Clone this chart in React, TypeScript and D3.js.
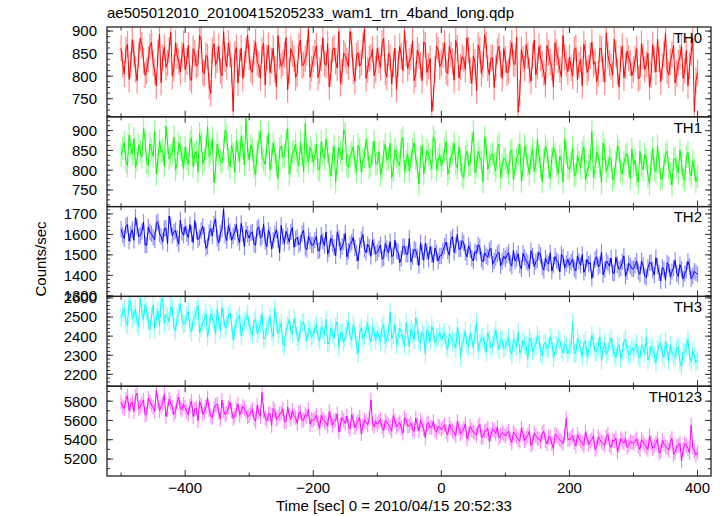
import React from "react";
import * as d3 from "d3";

const TITLE = "ae505012010_20100415205233_wam1_trn_4band_long.qdp";
const XLABEL = "Time [sec] 0 = 2010/04/15 20:52:33";
const YLABEL = "Counts/sec";

// samples on whole 5 s steps from -500 s, and the in-between samples (offset 2.5 s)
const T0 = -500;
const DT = 5;

const th0 = [
  862, 805, 871, 826, 850, 790, 884, 835, 812, 866, 829, 778, 893, 841, 820, 858, 800, 874, 833, 847,
  815, 869, 790, 851, 828, 880, 806, 843, 762, 872, 836, 812, 899, 821, 849, 722, 864, 830, 795, 858,
  842, 808, 876, 825, 857, 781, 868, 834, 815, 890, 822, 847, 770, 861, 839, 806, 880, 826, 852, 798,
  838, 867, 812, 885, 824, 776, 858, 833, 899, 809, 846, 821, 870, 789, 852, 830, 905, 814, 842, 801,
  862, 819, 884, 798, 841, 827, 771, 866, 812, 850, 833, 878, 804, 845, 790, 869, 822, 722, 815, 858,
  829, 874, 806, 848, 791, 862, 820, 838, 885, 812, 845, 768, 857, 826, 870, 803, 841, 819, 866, 795,
  838, 812, 874, 826, 720, 859, 817, 846, 789, 880, 822, 841, 807, 868, 831, 776, 853, 814, 890, 828,
  842, 800, 863, 825, 779, 851, 818, 875, 832, 806, 860, 787, 846, 821, 882, 810, 839, 797, 856, 829,
  815, 861, 798, 844, 826, 776, 870, 809, 837, 822, 895, 803, 848, 785, 830, 866, 812, 779, 851, 722,
  808,
];
const th0Mid = [
  826, 858, 793, 881, 815, 847, 869, 802, 838, 875, 811, 852, 786, 864, 830, 897, 818, 845, 809, 872,
  833, 796, 861, 822, 890, 809, 846, 778, 857, 824, 866, 801, 839, 873, 812, 848, 785, 862, 827, 891,
  815, 852, 830, 796, 873, 841, 808, 862, 776, 844, 829, 885, 812, 850, 797, 866, 823, 839, 905, 817,
  852, 797, 840, 829, 872, 806, 863, 818, 784, 851, 834, 899, 811, 845, 822, 867, 795, 838, 860, 815,
  836, 873, 809, 851, 783, 862, 827, 845, 901, 817, 842, 790, 858, 824, 876, 808, 839, 752, 867, 821,
  847, 810, 866, 832, 879, 796, 843, 815, 858, 784, 831, 869, 806, 892, 818, 840, 775, 855, 828, 861,
  807, 851, 829, 886, 762, 838, 870, 812, 845, 803, 866, 826, 781, 852, 819, 874, 836, 798, 842, 810,
  818, 859, 792, 837, 871, 808, 845, 826, 788, 862, 815, 896, 829, 803, 850, 776, 866, 822, 840, 801,
  838, 794, 872, 815, 851, 803, 836, 882, 788, 849, 812, 831, 868, 806, 842, 795, 857, 823, 884, 790,
];

const th1 = [
  838, 871, 812, 859, 880, 826, 848, 905, 819, 866, 835, 790, 874, 851, 912, 828, 845, 801, 869, 836,
  858, 815, 882, 840, 796, 872, 829, 910, 844, 768, 866, 825, 851, 889, 808, 842, 875, 822, 860, 931,
  826, 851, 788, 872, 833, 815, 894, 829, 846, 779, 861, 837, 906, 812, 848, 824, 870, 797, 839, 858,
  820, 866, 801, 843, 879, 812, 830, 771, 858, 826, 892, 808, 845, 819, 864, 795, 833, 852, 812, 874,
  816, 789, 846, 825, 868, 800, 835, 812, 882, 821, 798, 853, 830, 765, 862, 818, 841, 803, 873, 826,
  811, 852, 790, 835, 869, 806, 823, 781, 848, 815, 897, 809, 832, 771, 855, 820, 842, 798, 866, 812,
  828, 790, 851, 806, 840, 772, 862, 815, 832, 797, 879, 808, 825, 846, 780, 858, 812, 836, 770, 845,
  802, 856, 789, 821, 845, 776, 812, 898, 805, 833, 768, 851, 809, 826, 785, 862, 800, 818, 842, 779,
  812, 787, 848, 801, 828, 766, 855, 796, 821, 780, 839, 805, 762, 830, 793, 817, 774, 845, 786, 802,
  784,
];
const th1Mid = [
  855, 822, 889, 841, 806, 864, 833, 877, 812, 851, 898, 826, 845, 810, 869, 838, 884, 819, 856, 803,
  830, 871, 809, 848, 893, 817, 856, 835, 880, 806, 842, 818, 901, 829, 863, 795, 847, 885, 813, 852,
  864, 810, 847, 898, 825, 858, 801, 869, 814, 853, 832, 875, 790, 845, 866, 811, 838, 918, 822, 848,
  838, 803, 872, 829, 847, 785, 861, 818, 844, 902, 812, 835, 860, 797, 851, 824, 878, 806, 842, 816,
  847, 806, 866, 830, 781, 852, 818, 874, 797, 840, 823, 869, 808, 835, 791, 850, 826, 885, 802, 839,
  826, 872, 804, 843, 816, 859, 787, 835, 812, 866, 794, 848, 821, 883, 803, 838, 815, 856, 780, 829,
  812, 847, 776, 829, 866, 801, 838, 789, 853, 818, 834, 771, 861, 806, 829, 843, 792, 823, 880, 807,
  821, 786, 838, 805, 859, 794, 826, 781, 847, 812, 869, 797, 833, 775, 820, 848, 790, 836, 809, 853,
  826, 769, 812, 840, 786, 819, 802, 862, 778, 815, 848, 791, 827, 808, 851, 782, 834, 799, 823, 771,
];

const th2 = [
  1625, 1580, 1648, 1602, 1571, 1639, 1595, 1660, 1548, 1612, 1587, 1655, 1603, 1566, 1631, 1690, 1594, 1620, 1552, 1610,
  1638, 1585, 1602, 1667, 1574, 1619, 1596, 1543, 1628, 1651, 1582, 1607, 1725, 1570, 1615, 1592, 1648, 1560, 1604, 1622,
  1582, 1611, 1548, 1637, 1590, 1565, 1620, 1528, 1602, 1575, 1644, 1556, 1591, 1612, 1537, 1585, 1560, 1620, 1525, 1569,
  1548, 1590, 1523, 1568, 1612, 1530, 1557, 1496, 1582, 1541, 1605, 1518, 1562, 1534, 1470, 1575, 1527, 1551, 1493, 1540,
  1512, 1548, 1486, 1530, 1565, 1497, 1521, 1462, 1542, 1505, 1580, 1490, 1523, 1448, 1512, 1556, 1478, 1503, 1534, 1470,
  1496, 1542, 1520, 1575, 1512, 1601, 1530, 1558, 1490, 1525, 1470, 1508, 1539, 1465, 1496, 1522, 1454, 1487, 1513, 1468,
  1480, 1512, 1445, 1470, 1505, 1432, 1488, 1461, 1520, 1443, 1476, 1498, 1425, 1463, 1510, 1450, 1472, 1416, 1489, 1458,
  1447, 1480, 1421, 1468, 1502, 1436, 1455, 1385, 1478, 1441, 1513, 1427, 1460, 1485, 1410, 1452, 1437, 1495, 1418, 1446,
  1432, 1470, 1405, 1448, 1389, 1461, 1425, 1486, 1412, 1440, 1376, 1452, 1418, 1473, 1395, 1430, 1407, 1468, 1383, 1420,
  1405,
];
const th2Mid = [
  1598, 1642, 1567, 1623, 1684, 1589, 1615, 1548, 1637, 1603, 1574, 1662, 1590, 1628, 1555, 1646, 1612, 1580, 1671, 1596,
  1604, 1648, 1561, 1616, 1585, 1640, 1532, 1609, 1592, 1676, 1558, 1625, 1596, 1643, 1571, 1612, 1585, 1654, 1540, 1601,
  1607, 1553, 1628, 1582, 1649, 1540, 1598, 1571, 1623, 1510, 1589, 1615, 1562, 1634, 1578, 1550, 1605, 1536, 1592, 1548,
  1572, 1519, 1596, 1545, 1503, 1582, 1536, 1610, 1522, 1563, 1490, 1551, 1586, 1508, 1545, 1599, 1512, 1538, 1570, 1505,
  1530, 1478, 1556, 1509, 1492, 1571, 1515, 1483, 1539, 1502, 1465, 1528, 1491, 1560, 1474, 1518, 1540, 1462, 1509, 1495,
  1521, 1562, 1498, 1589, 1546, 1527, 1570, 1512, 1545, 1483, 1516, 1550, 1478, 1510, 1489, 1532, 1471, 1505, 1446, 1493,
  1498, 1459, 1521, 1482, 1449, 1507, 1470, 1432, 1495, 1466, 1512, 1440, 1485, 1455, 1421, 1492, 1462, 1503, 1437, 1478,
  1464, 1432, 1496, 1449, 1415, 1478, 1462, 1428, 1491, 1452, 1403, 1470, 1445, 1412, 1488, 1430, 1466, 1395, 1459, 1432,
  1449, 1418, 1470, 1396, 1437, 1462, 1401, 1445, 1372, 1428, 1461, 1392, 1436, 1410, 1452, 1381, 1425, 1443, 1398, 1412,
];

const th3 = [
  2498, 2545, 2455, 2580, 2510, 2470, 2602, 2488, 2530, 2435, 2562, 2497, 2455, 2598, 2512, 2476, 2540, 2428, 2520, 2485,
  2465, 2530, 2421, 2502, 2560, 2446, 2488, 2395, 2515, 2472, 2540, 2430, 2495, 2458, 2522, 2380, 2478, 2510, 2445, 2488,
  2452, 2405, 2490, 2436, 2518, 2390, 2460, 2425, 2545, 2412, 2470, 2348, 2455, 2430, 2492, 2398, 2440, 2472, 2376, 2428,
  2410, 2462, 2375, 2430, 2488, 2362, 2415, 2452, 2340, 2420, 2395, 2478, 2381, 2428, 2310, 2445, 2402, 2466, 2370, 2418,
  2425, 2372, 2460, 2390, 2528, 2408, 2356, 2440, 2386, 2470, 2345, 2415, 2495, 2378, 2422, 2305, 2410, 2452, 2368, 2398,
  2380, 2420, 2332, 2398, 2365, 2445, 2290, 2388, 2352, 2415, 2340, 2472, 2362, 2395, 2318, 2380, 2348, 2432, 2330, 2375,
  2345, 2392, 2305, 2368, 2420, 2330, 2358, 2278, 2372, 2340, 2405, 2315, 2360, 2332, 2398, 2290, 2350, 2378, 2312, 2342,
  2335, 2470, 2310, 2362, 2296, 2378, 2330, 2405, 2318, 2348, 2272, 2366, 2322, 2390, 2305, 2345, 2280, 2372, 2328, 2310,
  2322, 2360, 2285, 2340, 2395, 2298, 2330, 2262, 2352, 2310, 2375, 2270, 2318, 2290, 2345, 2240, 2312, 2382, 2268, 2296,
  2275,
];
const th3Mid = [
  2525, 2470, 2588, 2492, 2541, 2452, 2519, 2565, 2478, 2506, 2440, 2532, 2585, 2466, 2501, 2553, 2445, 2498, 2570, 2462,
  2508, 2445, 2482, 2535, 2417, 2470, 2520, 2452, 2496, 2410, 2478, 2550, 2442, 2505, 2468, 2432, 2490, 2401, 2475, 2515,
  2428, 2478, 2415, 2462, 2385, 2445, 2502, 2398, 2475, 2440, 2365, 2432, 2488, 2412, 2455, 2372, 2468, 2418, 2440, 2395,
  2438, 2395, 2450, 2405, 2362, 2442, 2390, 2475, 2415, 2368, 2436, 2398, 2460, 2352, 2418, 2385, 2432, 2400, 2448, 2378,
  2402, 2445, 2360, 2418, 2385, 2462, 2395, 2422, 2350, 2408, 2438, 2382, 2455, 2366, 2400, 2432, 2372, 2425, 2390, 2418,
  2398, 2352, 2412, 2375, 2338, 2402, 2366, 2428, 2345, 2382, 2410, 2322, 2390, 2358, 2418, 2340, 2398, 2362, 2385, 2335,
  2368, 2325, 2385, 2342, 2310, 2378, 2348, 2395, 2320, 2355, 2382, 2298, 2366, 2340, 2372, 2318, 2385, 2335, 2360, 2308,
  2352, 2310, 2390, 2335, 2362, 2292, 2345, 2372, 2318, 2395, 2330, 2305, 2365, 2340, 2288, 2355, 2318, 2385, 2300, 2342,
  2338, 2295, 2352, 2310, 2275, 2345, 2302, 2330, 2365, 2288, 2325, 2352, 2298, 2332, 2265, 2318, 2345, 2290, 2322, 2262,
];

const th0123 = [
  5790, 5720, 5855, 5762, 5690, 5880, 5745, 5812, 5668, 5795, 5738, 5910, 5702, 5770, 5640, 5822, 5735, 5690, 5842, 5710,
  5735, 5660, 5802, 5715, 5598, 5760, 5690, 5835, 5648, 5722, 5770, 5612, 5705, 5680, 5790, 5620, 5712, 5655, 5745, 5688,
  5650, 5715, 5590, 5682, 5890, 5625, 5660, 5548, 5702, 5630, 5675, 5585, 5740, 5612, 5650, 5570, 5688, 5605, 5642, 5560,
  5598, 5655, 5520, 5612, 5575, 5690, 5548, 5602, 5480, 5628, 5570, 5540, 5660, 5525, 5590, 5462, 5605, 5555, 5812, 5535,
  5560, 5610, 5495, 5578, 5525, 5650, 5532, 5580, 5468, 5602, 5545, 5510, 5625, 5490, 5560, 5420, 5575, 5532, 5498, 5540,
  5505, 5555, 5450, 5520, 5478, 5590, 5462, 5515, 5410, 5538, 5480, 5445, 5560, 5430, 5495, 5380, 5512, 5465, 5420, 5475,
  5438, 5490, 5370, 5455, 5402, 5520, 5390, 5445, 5340, 5470, 5415, 5380, 5488, 5355, 5425, 5310, 5445, 5400, 5360, 5620,
  5398, 5445, 5335, 5410, 5362, 5480, 5350, 5402, 5300, 5430, 5375, 5340, 5455, 5320, 5388, 5275, 5410, 5365, 5320, 5380,
  5362, 5410, 5300, 5375, 5325, 5440, 5310, 5365, 5260, 5392, 5330, 5290, 5415, 5270, 5340, 5180, 5360, 5310, 5550, 5285,
  5270,
];
const th0123Mid = [
  5745, 5815, 5702, 5790, 5850, 5720, 5778, 5655, 5832, 5760, 5695, 5805, 5748, 5870, 5712, 5780, 5660, 5795, 5730, 5768,
  5690, 5752, 5640, 5730, 5795, 5665, 5742, 5708, 5630, 5758, 5690, 5810, 5660, 5735, 5702, 5648, 5770, 5695, 5720, 5640,
  5688, 5620, 5755, 5642, 5700, 5598, 5672, 5725, 5610, 5668, 5720, 5590, 5655, 5705, 5630, 5678, 5595, 5660, 5712, 5608,
  5620, 5575, 5655, 5588, 5540, 5630, 5592, 5668, 5555, 5600, 5645, 5510, 5598, 5565, 5635, 5540, 5582, 5620, 5568, 5592,
  5585, 5530, 5602, 5552, 5488, 5595, 5560, 5520, 5628, 5545, 5572, 5485, 5558, 5600, 5512, 5562, 5525, 5590, 5478, 5530,
  5528, 5482, 5560, 5495, 5440, 5522, 5488, 5565, 5458, 5505, 5470, 5540, 5425, 5490, 5520, 5455, 5495, 5530, 5445, 5460,
  5465, 5410, 5478, 5432, 5385, 5462, 5418, 5490, 5370, 5440, 5408, 5468, 5392, 5430, 5362, 5455, 5420, 5385, 5448, 5405,
  5420, 5372, 5455, 5388, 5340, 5418, 5385, 5440, 5328, 5402, 5365, 5430, 5350, 5395, 5420, 5338, 5385, 5412, 5345, 5372,
  5385, 5330, 5402, 5345, 5298, 5372, 5335, 5410, 5282, 5355, 5318, 5378, 5245, 5330, 5362, 5298, 5342, 5265, 5320, 5240,
];

const panelNames = ["TH0", "TH1", "TH2", "TH3", "TH0123"];
const panelData = [th0, th1, th2, th3, th0123];
const panelMid = [th0Mid, th1Mid, th2Mid, th3Mid, th0123Mid];
const panelErr = [29, 29, 40, 49, 76];
const panelColors = ["#ff0000", "#00ff00", "#0000ff", "#00ffff", "#ff00ff"];
const panelDomains: [number, number][] = [
  [710, 909],
  [708, 935],
  [1297, 1736],
  [2138, 2608],
  [5024, 5955],
];
const panelTicks = [
  [750, 800, 850, 900],
  [750, 800, 850, 900],
  [1300, 1400, 1500, 1600, 1700],
  [2200, 2300, 2400, 2500, 2600],
  [5200, 5400, 5600, 5800],
];
const panelMinorStep = [12.5, 12.5, 20, 20, 100];

const xTickLabels = [-400, -200, 0, 200, 400];
const xTicksAll = [-500, -400, -300, -200, -100, 0, 100, 200, 300, 400];

const W = 723;
const H = 516;
const L = 107;
const R = 711;
const TOP = 27;
const BOTTOM = 476;
const FONT = "'Liberation Sans', Arial, Helvetica, sans-serif";

type Pt = { t: number; v: number };

export default function App() {
  const x = d3.scaleLinear().domain([-522, 421]).range([L, R]);
  const ph = (BOTTOM - TOP) / panelNames.length;

  return (
    <svg
      width={W}
      height={H}
      style={{ position: "absolute", left: 0, top: 0, background: "#fff" }}
      fontFamily={FONT}
    >
      <text x={107} y={18} fontSize={15} fill="#000">
        {TITLE}
      </text>
      {panelNames.map((name, i) => {
        const top = TOP + i * ph;
        const bot = top + ph;
        const y = d3.scaleLinear().domain(panelDomains[i]).range([bot, top]);
        const pts: Pt[] = [];
        panelData[i].forEach((v, k) => {
          pts.push({ t: T0 + k * DT, v });
          const m = panelMid[i][k];
          if (m !== undefined) pts.push({ t: T0 + k * DT + DT / 2, v: m });
        });
        const line = d3
          .line<Pt>()
          .x((d) => x(d.t))
          .y((d) => y(d.v));
        const err = panelErr[i];
        const errPath = pts.map((d) => `M${x(d.t)},${y(d.v - err)}V${y(d.v + err)}`).join("");
        const [d0, d1] = panelDomains[i];
        const minor = d3.range(Math.ceil(d0 / panelMinorStep[i]) * panelMinorStep[i], d1, panelMinorStep[i]);
        const majors = panelTicks[i];
        return (
          <g key={name}>
            <defs>
              <clipPath id={`clip${i}`}>
                <rect x={L} y={top} width={R - L} height={ph} />
              </clipPath>
            </defs>
            <g clipPath={`url(#clip${i})`}>
              <path d={errPath} stroke={panelColors[i]} strokeOpacity={0.45} strokeWidth={1.2} fill="none" />
              <path d={line(pts) || ""} stroke={panelColors[i]} strokeWidth={1} fill="none" />
            </g>
            {minor.map((v) => (
              <g key={`m${v}`}>
                <line x1={L} x2={L + 3} y1={y(v)} y2={y(v)} stroke="#333" strokeWidth={1} />
                <line x1={R} x2={R - 3} y1={y(v)} y2={y(v)} stroke="#333" strokeWidth={1} />
              </g>
            ))}
            {majors.map((v) => (
              <g key={`M${v}`}>
                <line x1={L} x2={L + 6} y1={y(v)} y2={y(v)} stroke="#333" strokeWidth={1} />
                <line x1={R} x2={R - 6} y1={y(v)} y2={y(v)} stroke="#333" strokeWidth={1} />
                <text x={97} y={y(v)} dy="0.36em" textAnchor="end" fontSize={15} fill="#000">
                  {v}
                </text>
              </g>
            ))}
            {xTicksAll.map((t) => {
              const len = t % 200 === 0 ? 6 : 3.5;
              return (
                <g key={`x${t}`}>
                  <line x1={x(t)} x2={x(t)} y1={top} y2={top + len} stroke="#333" strokeWidth={1} />
                  <line x1={x(t)} x2={x(t)} y1={bot} y2={bot - len} stroke="#333" strokeWidth={1} />
                </g>
              );
            })}
            <rect x={L} y={top} width={R - L} height={ph} fill="none" stroke="#222" strokeWidth={1.3} />
            <text x={702} y={top + 15.7} textAnchor="end" fontSize={15} fill="#000">
              {name}
            </text>
          </g>
        );
      })}
      {xTickLabels.map((t) => (
        <text key={t} x={x(t)} y={493} textAnchor="middle" fontSize={15} fill="#000">
          {t < 0 ? `\u2212${Math.abs(t)}` : `${t}`}
        </text>
      ))}
      <text x={276} y={511} fontSize={15} fill="#000">
        {XLABEL}
      </text>
      <text transform={`translate(46,259) rotate(-90)`} textAnchor="middle" fontSize={15} fill="#000">
        {YLABEL}
      </text>
    </svg>
  );
}
